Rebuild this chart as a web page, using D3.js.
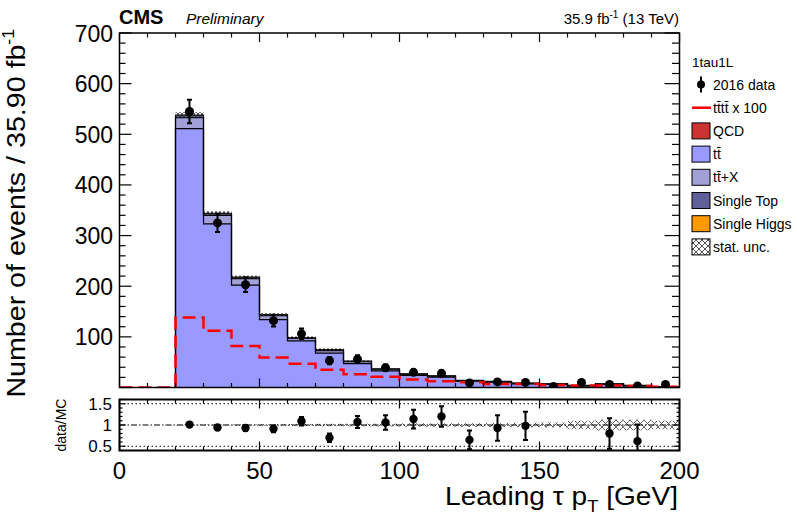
<!DOCTYPE html>
<html>
<head>
<meta charset="utf-8">
<script src="https://cdn.jsdelivr.net/npm/d3@7"></script>
<style>
body { margin: 0; background: #fff; }
svg { display: block; }
text { font-family: "Liberation Sans", Arial, sans-serif; fill: #000; }
</style>
</head>
<body>
<div id="chart"></div>
<script>
// bins of leading tau pT (GeV)
const binLow = [0, 10, 20, 30, 40, 50, 60, 70, 80, 90, 100, 110, 120, 130, 140, 150, 160, 170, 180, 190];
const binWidth = 10;

// stacked backgrounds
const qcd         = [0, 0, 0, 0, 0, 0, 0, 0, 0, 0, 0, 0, 0, 0, 0, 0, 0, 0, 0, 0];
const ttbar       = [0, 0, 511, 323, 202, 134, 92, 68, 47, 33, 24, 20.5, 12.3, 10.5, 7.3, 6, 3.3, 6, 3.3, 1.6];
const ttX         = [0, 0, 22, 17, 13, 8, 5, 5, 4, 3, 2.3, 2, 1.3, 1.2, 0.9, 0.8, 0.5, 0.7, 0.5, 0.3];
const singleTop   = [0, 0, 5, 4, 3, 2, 1.5, 2, 1, 1, 0.7, 0.5, 0.4, 0.3, 0.3, 0.2, 0.2, 0.3, 0.2, 0.1];
const singleHiggs = [0, 0, 0, 0, 0, 0, 0, 0, 0, 0, 0, 0, 0, 0, 0, 0, 0, 0, 0, 0];
const mcUnc       = [0, 0, 5.5, 4, 3, 2.8, 2.4, 2.2, 1.6, 1.3, 1.1, 0.9, 0.6, 0.55, 0.45, 0.4, 0.4, 0.9, 0.5, 0.2];

// signal tttt x 100
const tttt100 = [0, 0, 138, 112, 82, 59, 47, 35, 26, 21, 16, 12.5, 10.5, 7, 7, 5, 4, 4, 3, 1.5];

// 2016 data
const dataVal = [0, 0, 545, 325, 203, 132, 106, 53, 56, 39, 30, 28, 9, 11, 10, 2, 10, 6, 3, 6];
const dataErr = [0, 0, 23.3, 18, 14.2, 11.5, 10.3, 7.3, 7.5, 6.2, 5.5, 5.3, 3, 3.3, 3.2, 1.4, 3.2, 2.4, 1.7, 2.4];

// data/MC ratio
const ratioVal = [null, null, 1.01, 0.94, 0.93, 0.91, 1.09, 0.70, 1.07, 1.06, 1.14, 1.20, 0.65, 0.93, 0.98, 0.29, 2.5, 0.80, 0.62, 3.0];
const ratioErr = [0, 0, 0.04, 0.05, 0.065, 0.08, 0.1, 0.1, 0.14, 0.17, 0.22, 0.24, 0.22, 0.3, 0.33, 0.2, 0.8, 0.36, 0.39, 1.2];

const yTicksMain = [100, 200, 300, 400, 500, 600, 700];
const yTicksRatio = [0.5, 1, 1.5];
const xTicks = [0, 50, 100, 150, 200];

const colQCD = "#cc3333", colTT = "#9999ff", colTTX = "#a1a1d8", colST = "#5f5f99", colSH = "#ff9900";

const W = 797, H = 515;
const svg = d3.select("#chart").append("svg").attr("width", W).attr("height", H);

const defs = svg.append("defs");
defs.append("pattern").attr("id", "hatchMain").attr("patternUnits", "userSpaceOnUse")
    .attr("width", 4).attr("height", 4)
    .append("path").attr("d", "M0,0L4,4M4,0L0,4").attr("stroke", "#333").attr("stroke-width", 0.8);
defs.append("pattern").attr("id", "hatchRatio").attr("patternUnits", "userSpaceOnUse")
    .attr("width", 7).attr("height", 7)
    .append("path").attr("d", "M0,0L7,7M7,0L0,7").attr("stroke", "#555").attr("stroke-width", 0.9);
defs.append("pattern").attr("id", "hatchLeg").attr("patternUnits", "userSpaceOnUse")
    .attr("width", 6).attr("height", 6)
    .append("path").attr("d", "M0,0L6,6M6,0L0,6").attr("stroke", "#444").attr("stroke-width", 0.9);

const x = d3.scaleLinear().domain([0, 200]).range([119.5, 679.5]);
const y = d3.scaleLinear().domain([0, 700]).range([387.5, 33]);
const yr = d3.scaleLinear().domain([0.4, 1.6]).range([450.5, 399.5]);

defs.append("clipPath").attr("id", "clipMain").append("rect")
    .attr("x", x(0)).attr("y", y(700)).attr("width", x(200) - x(0)).attr("height", y(0) - y(700));
defs.append("clipPath").attr("id", "clipRatio").append("rect")
    .attr("x", x(0)).attr("y", yr(1.6)).attr("width", x(200) - x(0)).attr("height", yr(0.4) - yr(1.6));

// ---------- main pad ----------
const main = svg.append("g").attr("clip-path", "url(#clipMain)");

// cumulative stack
const layers = [qcd, ttbar, ttX, singleTop, singleHiggs];
const layerCols = [colQCD, colTT, colTTX, colST, colSH];
let cum = binLow.map(() => 0);
const stacks = layers.map(l => {
    const lo = cum.slice();
    cum = cum.map((c, i) => c + l[i]);
    return { lo: lo, hi: cum.slice() };
});
const mcTotal = cum;

function stepPts(vals) {
    const pts = binLow.map((b, i) => [b, vals[i]]);
    pts.push([200, vals[vals.length - 1]]);
    return pts;
}

const stepLine = d3.line().x(d => x(d[0])).y(d => y(d[1])).curve(d3.curveStepAfter);

// draw from top layer down so that each cumulative sum covers the one below
for (let k = layers.length - 1; k >= 0; k--) {
    const top = stacks[k].hi;
    if (d3.max(layers[k]) <= 0) continue;
    const pts = stepPts(top);
    const area = d3.area().x(d => x(d[0])).y0(y(0)).y1(d => y(d[1])).curve(d3.curveStepAfter);
    main.append("path").attr("d", area(pts)).attr("fill", layerCols[k]).attr("stroke", "none");
}
for (let k = 0; k < layers.length; k++) {
    if (d3.max(layers[k]) <= 0) continue;
    const pts = [[0, 0]].concat(stepPts(stacks[k].hi)).concat([[200, 0]]);
    main.append("path").attr("d", stepLine(pts)).attr("fill", "none")
        .attr("stroke", "#000").attr("stroke-width", 1.2);
}

// stat. unc. band
main.selectAll(".unc").data(binLow.map((b, i) => i).filter(i => mcTotal[i] > 0)).enter()
    .append("rect")
    .attr("x", i => x(binLow[i]))
    .attr("width", i => x(binLow[i] + binWidth) - x(binLow[i]))
    .attr("y", i => y(mcTotal[i] + mcUnc[i]))
    .attr("height", i => y(mcTotal[i] - mcUnc[i]) - y(mcTotal[i] + mcUnc[i]))
    .attr("fill", "url(#hatchMain)");

// tttt x 100
main.append("path").attr("d", stepLine(stepPts(tttt100)))
    .attr("fill", "none").attr("stroke", "#ff0000").attr("stroke-width", 2.5)
    .attr("stroke-dasharray", "13,6");

// data points
const dIdx = binLow.map((b, i) => i).filter(i => dataVal[i] > 0);
const dg = main.append("g");
dIdx.forEach(i => {
    const cx = x(binLow[i] + binWidth / 2);
    const top = y(dataVal[i] + dataErr[i]), bot = y(dataVal[i] - dataErr[i]);
    dg.append("line").attr("x1", cx).attr("x2", cx).attr("y1", top).attr("y2", bot)
        .attr("stroke", "#000").attr("stroke-width", 2);
    [top, bot].forEach(yy => dg.append("line").attr("x1", cx - 2.5).attr("x2", cx + 2.5)
        .attr("y1", yy).attr("y2", yy).attr("stroke", "#000").attr("stroke-width", 2));
    dg.append("circle").attr("cx", cx).attr("cy", y(dataVal[i])).attr("r", 4.5).attr("fill", "#000");
});

// frame + ticks
const axes = svg.append("g").attr("stroke", "#000");
axes.append("rect").attr("x", x(0)).attr("y", y(700)).attr("width", x(200) - x(0))
    .attr("height", y(0) - y(700)).attr("fill", "none").attr("stroke-width", 1.5);

function xTickMarks(yPos, dir, lenMaj, lenMin) {
    binLow.concat([200]).forEach(v => {
        const L = v % 50 === 0 ? lenMaj : lenMin;
        axes.append("line").attr("x1", x(v)).attr("x2", x(v)).attr("y1", yPos).attr("y2", yPos + dir * L)
            .attr("stroke-width", 1.2);
    });
}
xTickMarks(y(0), -1, 9, 4.5);
xTickMarks(y(700), 1, 9, 4.5);
d3.range(0, 701, 20).forEach(v => {
    const maj = v % 100 === 0;
    axes.append("line").attr("x1", x(0)).attr("x2", x(0) + (maj ? 12 : 6)).attr("y1", y(v)).attr("y2", y(v)).attr("stroke-width", 1.2);
    axes.append("line").attr("x1", x(200)).attr("x2", x(200) - (maj ? 15 : 7.5)).attr("y1", y(v)).attr("y2", y(v)).attr("stroke-width", 1.2);
});

svg.selectAll(".ylab").data(yTicksMain).enter().append("text")
    .attr("x", 113).attr("y", d => y(d) + 8.5).attr("text-anchor", "end")
    .style("font-size", "23px").text(d => d);

// ---------- ratio pad ----------
const rat = svg.append("g").attr("clip-path", "url(#clipRatio)");
rat.selectAll(".runc").data(binLow.map((b, i) => i).filter(i => mcTotal[i] > 0)).enter()
    .append("rect")
    .attr("x", i => x(binLow[i]))
    .attr("width", i => x(binLow[i] + binWidth) - x(binLow[i]))
    .attr("y", i => yr(1 + mcUnc[i] / mcTotal[i]))
    .attr("height", i => yr(1 - mcUnc[i] / mcTotal[i]) - yr(1 + mcUnc[i] / mcTotal[i]))
    .attr("fill", "url(#hatchRatio)");

[0.5, 1.5].forEach(v => rat.append("line").attr("x1", x(0)).attr("x2", x(200))
    .attr("y1", yr(v)).attr("y2", yr(v)).attr("stroke", "#000").attr("stroke-width", 1.2)
    .attr("stroke-dasharray", "1.5,2.5"));
rat.append("line").attr("x1", x(0)).attr("x2", x(200)).attr("y1", yr(1)).attr("y2", yr(1))
    .attr("stroke", "#000").attr("stroke-width", 1.2).attr("stroke-dasharray", "6,2,1.5,2");

binLow.forEach((b, i) => {
    const v = ratioVal[i];
    if (v === null || v < 0.4 || v > 1.6) return;
    const cx = x(b + binWidth / 2);
    const top = yr(v + ratioErr[i]), bot = yr(v - ratioErr[i]);
    rat.append("line").attr("x1", cx).attr("x2", cx).attr("y1", top).attr("y2", bot)
        .attr("stroke", "#000").attr("stroke-width", 2);
    [top, bot].forEach(yy => rat.append("line").attr("x1", cx - 2.5).attr("x2", cx + 2.5)
        .attr("y1", yy).attr("y2", yy).attr("stroke", "#000").attr("stroke-width", 2));
    rat.append("circle").attr("cx", cx).attr("cy", yr(v)).attr("r", 4.2).attr("fill", "#000");
});

axes.append("rect").attr("x", x(0)).attr("y", yr(1.6)).attr("width", x(200) - x(0))
    .attr("height", yr(0.4) - yr(1.6)).attr("fill", "none").attr("stroke-width", 2);
xTickMarks(yr(0.4), -1, 9, 4);
xTickMarks(yr(1.6), 1, 9, 4);
d3.range(0.4, 1.61, 0.1).forEach(v => {
    const maj = Math.abs(v * 2 - Math.round(v * 2)) < 1e-6;
    axes.append("line").attr("x1", x(0)).attr("x2", x(0) + (maj ? 6 : 3)).attr("y1", yr(v)).attr("y2", yr(v)).attr("stroke-width", 1.2);
    axes.append("line").attr("x1", x(200)).attr("x2", x(200) - (maj ? 6 : 3)).attr("y1", yr(v)).attr("y2", yr(v)).attr("stroke-width", 1.2);
});

svg.selectAll(".rlab").data(yTicksRatio).enter().append("text")
    .attr("x", 112).attr("y", d => yr(d) + 6).attr("text-anchor", "end")
    .style("font-size", "17px").text(d => d);

svg.selectAll(".xlab").data(xTicks).enter().append("text")
    .attr("x", d => x(d)).attr("y", 479).attr("text-anchor", "middle")
    .style("font-size", "24px").text(d => d);

// ---------- titles ----------
const ytitle = svg.append("text")
    .attr("transform", "translate(24.5,29) rotate(-90) scale(1.1,1)")
    .attr("text-anchor", "end").style("font-size", "26px");
ytitle.append("tspan").text("Number of events / 35.90 fb");
ytitle.append("tspan").attr("dy", -11).style("font-size", "16px").text("-1");

svg.append("text").attr("transform", "translate(66,425) rotate(-90)")
    .attr("text-anchor", "middle").style("font-size", "14px").text("data/MC");

const xtitle = svg.append("text").attr("transform", "translate(678,505) scale(1.08,1)")
    .attr("text-anchor", "end").style("font-size", "26px");
xtitle.append("tspan").text("Leading \u03c4 p");
xtitle.append("tspan").attr("dy", 7).style("font-size", "17px").text("T");
xtitle.append("tspan").attr("dy", -7).text(" [GeV]");

svg.append("text").attr("x", 119).attr("y", 24).style("font-size", "20px")
    .style("font-weight", "bold").text("CMS");
svg.append("text").attr("x", 186).attr("y", 24).style("font-size", "15.5px")
    .style("font-style", "italic").text("Preliminary");
const lumi = svg.append("text").attr("x", 679).attr("y", 24).attr("text-anchor", "end").style("font-size", "15px");
lumi.append("tspan").text("35.9 fb");
lumi.append("tspan").attr("dy", -6).style("font-size", "10px").text("-1");
lumi.append("tspan").attr("dy", 6).text(" (13 TeV)");

// ---------- legend ----------
const leg = svg.append("g");
const legX = 692, legText = 713, legY0 = 89.5, legDy = 23.2;
leg.append("text").attr("x", legX).attr("y", 67).style("font-size", "13.5px").text("1tau1L");

const legItems = [
    { kind: "data", label: "2016 data" },
    { kind: "line", label: "tt\u0304tt\u0304 x 100" },
    { kind: "box", col: colQCD, label: "QCD" },
    { kind: "box", col: colTT, label: "tt\u0304" },
    { kind: "box", col: colTTX, label: "tt\u0304+X" },
    { kind: "box", col: colST, label: "Single Top" },
    { kind: "box", col: colSH, label: "Single Higgs" },
    { kind: "hatch", label: "stat. unc." }
];
legItems.forEach((d, i) => {
    const by = legY0 + i * legDy;
    const cy = by - 5;
    if (d.kind === "data") {
        leg.append("line").attr("x1", 701).attr("x2", 701).attr("y1", cy - 8).attr("y2", cy + 8)
            .attr("stroke", "#000").attr("stroke-width", 2);
        leg.append("circle").attr("cx", 701).attr("cy", cy).attr("r", 4).attr("fill", "#000");
    } else if (d.kind === "line") {
        leg.append("line").attr("x1", legX).attr("x2", legX + 19).attr("y1", cy).attr("y2", cy)
            .attr("stroke", "#ff0000").attr("stroke-width", 2.5);
    } else {
        leg.append("rect").attr("x", legX).attr("y", cy - 8).attr("width", 18).attr("height", 16)
            .attr("fill", d.kind === "hatch" ? "url(#hatchLeg)" : d.col)
            .attr("stroke", "#000").attr("stroke-width", 1);
    }
    leg.append("text").attr("x", legText).attr("y", by).style("font-size", "14px").text(d.label);
});
</script>
</body>
</html>
